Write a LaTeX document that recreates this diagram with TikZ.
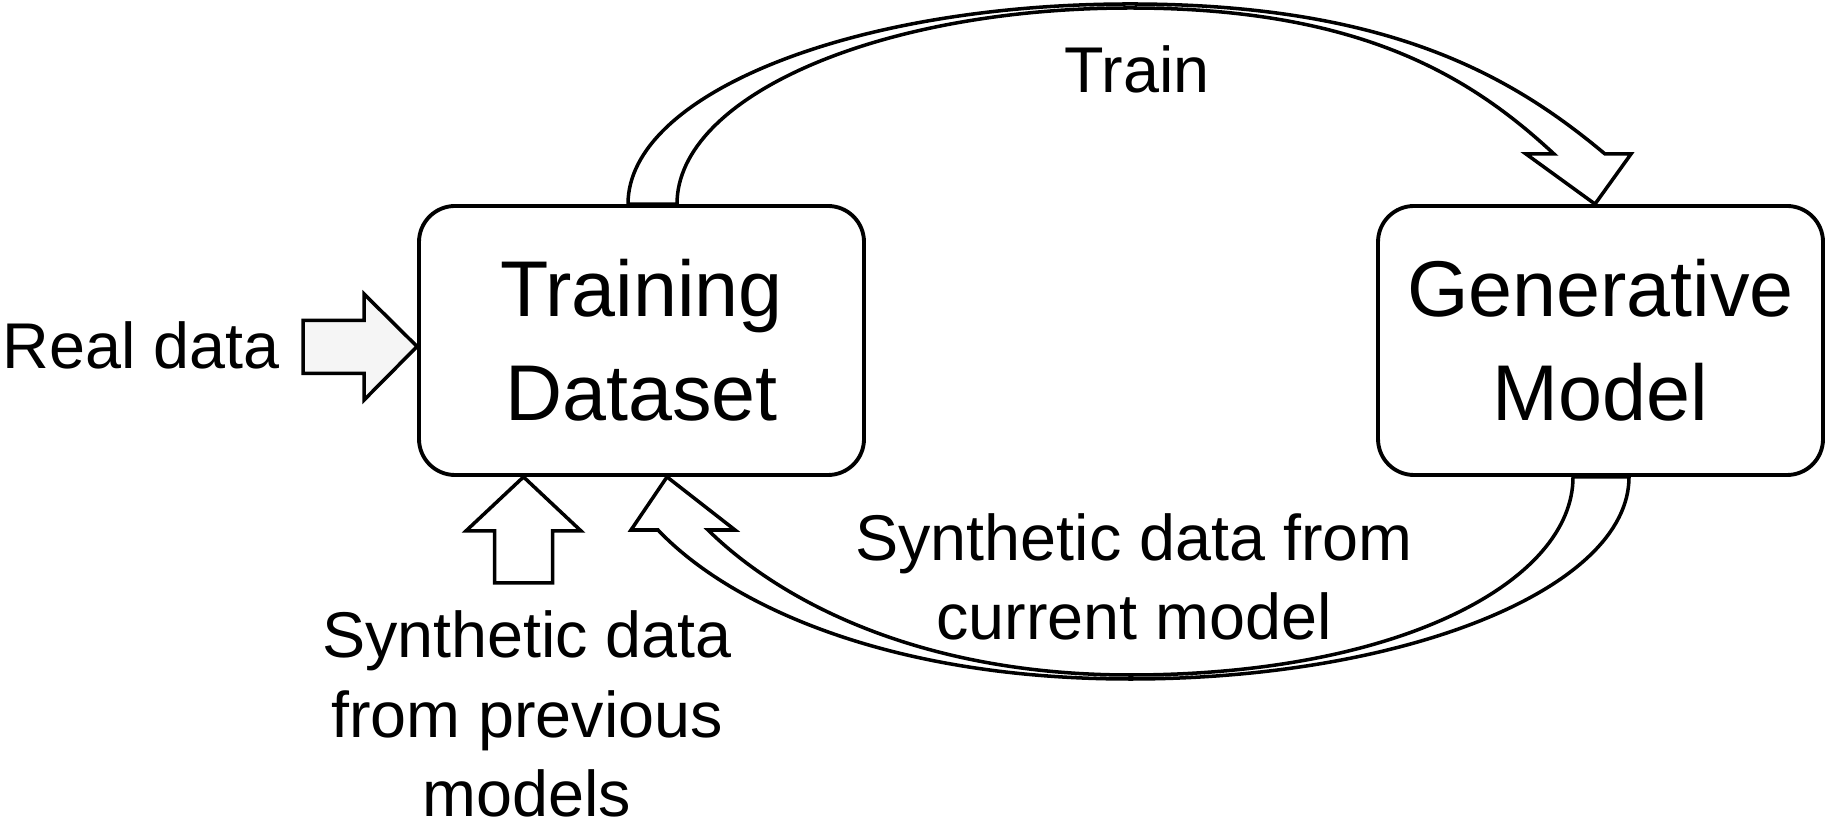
\documentclass[tikz,border=0pt]{standalone}
\usepackage{fontspec}
\setmainfont{Liberation Sans}
\usetikzlibrary{calc}
\definecolor{Ink}{HTML}{000000}
\definecolor{RealFill}{HTML}{F5F5F5}

\begin{document}
\begin{tikzpicture}[x=1cm,y=1cm,
  box/.style={draw=Ink,line width=1.1pt,rounded corners=0.36cm,minimum width=4.45cm,minimum height=2.69cm,align=center,inner sep=0pt,font=\fontsize{22.5}{29.6}\selectfont,text=Ink},
  lbl/.style={align=center,inner sep=0pt,font=\fontsize{18.4}{22.6}\selectfont,text=Ink},
  flex/.style={draw=Ink,line width=1pt,line join=miter,fill=white}]
\useasboundingbox (0,0) rectangle (18.31,8.26);
\node[box] (dataset) at (6.415,4.855) {Training\\Dataset};
\node[box] (model) at (16.005,4.855) {Generative\\Model};
% anchor points of the two curved arrows
\coordinate (trainO) at ($(dataset.north)+(-0.135,0)$);
\coordinate (trainI) at ($(dataset.north)+(0.355,0)$);
\coordinate (trainTip) at ($(model.north)+(-0.055,0)$);
\coordinate (synO) at ($(model.south)+(0.285,0)$);
\coordinate (synI) at ($(model.south)+(-0.275,0)$);
\coordinate (synTip) at ($(dataset.south)+(0.255,0)$);
\coordinate (realTip) at ($(dataset.west)+(0,-0.06)$);
% real data
\draw[flex,fill=RealFill] (realTip) -- ++(-0.53,0.525) -- ++(0,-0.265) -- ++(-0.61,0) -- ++(0,-0.53) -- ++(0.61,0) -- ++(0,-0.265) -- cycle;
\node[lbl,anchor=east] (real) at (2.80,4.81) {Real data};
% previous models
\draw[flex] ($(dataset.south)+(-1.18,0)$) -- ++(0.575,-0.54) -- ++(-0.285,0) -- ++(0,-0.52) -- ++(-0.58,0) -- ++(0,0.52) -- ++(-0.285,0) -- cycle;
\node[lbl] (prev) at (5.27,1.12) {Synthetic data\\from previous\\models};
% train
\draw[flex] (trainO) .. controls (6.28,7.32) and (8.53,8.22) .. (11.3,8.22) .. controls (13.9,8.22) and (15.13,7.49) .. (16.05,6.72) -- (16.31,6.72) -- (trainTip) -- (15.26,6.72) -- (15.54,6.72) .. controls (14.7,7.5) and (13.6,8.18) .. (11.3,8.18) .. controls (8.8,8.18) and (6.77,7.3) .. (trainI) -- cycle;
\node[lbl] (train) at (11.37,7.57) {Train};
% current model
\draw[flex] (synO) .. controls (16.29,2.375) and (14.05,1.47) .. (11.3,1.47) .. controls (8.9,1.47) and (7.3,2.2) .. (6.58,2.96) -- (6.31,2.96) -- (synTip) -- (7.35,2.96) -- (7.08,2.96) .. controls (7.8,2.25) and (9.2,1.51) .. (11.3,1.51) .. controls (14.0,1.51) and (15.73,2.45) .. (synI) -- cycle;
\node[lbl] (current) at (11.34,2.49) {Synthetic data from\\current model};
\end{tikzpicture}
\end{document}
